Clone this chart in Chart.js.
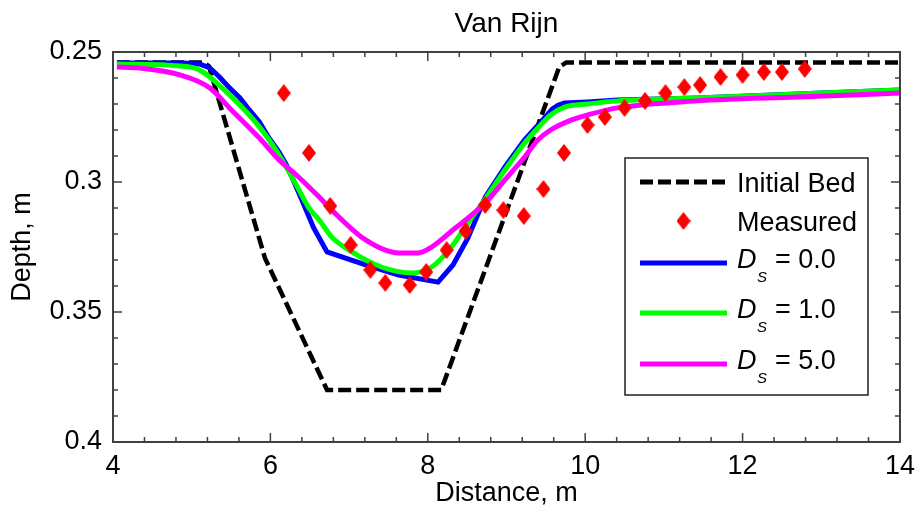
<!DOCTYPE html>
<html>
<head>
<meta charset="utf-8">
<script src="https://cdn.jsdelivr.net/npm/chart.js@4.4.0/dist/chart.umd.min.js"></script>
<style>
  html, body { margin: 0; padding: 0; background: #fff; }
  #wrap { width: 923px; height: 519px; }
</style>
</head>
<body>
<div id="wrap"><canvas id="myChart" width="923" height="519"></canvas></div>
<script>
// DATA (distance in m, depth in m)
const bedX = [4.05, 5.15, 5.22, 5.93, 6.72, 8.17, 9.67, 9.76, 14];
const bedDepth = [0.254, 0.254, 0.2555, 0.3292, 0.38, 0.38, 0.2558, 0.254, 0.254];

const measX = [6.17, 6.49, 6.76, 7.02, 7.27, 7.46, 7.77, 7.98, 8.24, 8.48, 8.73, 8.96, 9.22, 9.47,
  9.73, 10.03, 10.25, 10.5, 10.76, 11.02, 11.26, 11.46, 11.72, 12.0, 12.27, 12.5, 12.79];
const measDepth = [0.2658, 0.2888, 0.3092, 0.3242, 0.3338, 0.3388, 0.3396, 0.3346, 0.3262, 0.3188,
  0.3088, 0.3108, 0.3131, 0.3027, 0.2888, 0.2781, 0.275, 0.2715, 0.2688, 0.2658, 0.2635, 0.2627,
  0.2596, 0.2588, 0.2577, 0.2577, 0.2565];

const ds0X = [4.05, 4.9, 5.1, 5.23, 5.35, 5.48, 5.61, 5.73, 5.86, 5.98, 6.11, 6.2, 6.28, 6.4, 6.55,
  6.72, 7.21, 7.63, 8.13, 8.32, 8.51, 8.73, 8.98, 9.23, 9.4, 9.5, 9.58, 9.66, 9.74, 10.03, 10.41,
  11.42, 12.69, 14];
const ds0Depth = [0.2542, 0.2542, 0.2546, 0.2561, 0.2595, 0.2638, 0.2676, 0.2722, 0.2769, 0.283,
  0.2885, 0.2932, 0.2985, 0.3069, 0.3177, 0.3269, 0.3319, 0.3358, 0.3385, 0.3319, 0.3215, 0.3058,
  0.2942, 0.2838, 0.2781, 0.2748, 0.272, 0.2704, 0.2696, 0.2692, 0.2685, 0.2677, 0.2662, 0.2646];

const ds1X = [4.05, 4.85, 5.1, 5.48, 5.86, 6.11, 6.33, 6.49, 6.62, 6.78, 7.0, 7.41, 7.79, 8.05, 8.3,
  8.51, 8.73, 8.98, 9.23, 9.4, 9.56, 9.74, 10.03, 10.41, 11.42, 12.69, 14];
const ds1Depth = [0.2546, 0.2554, 0.2569, 0.2665, 0.2788, 0.2896, 0.3012, 0.31, 0.3146, 0.3212,
  0.3262, 0.3327, 0.335, 0.3327, 0.325, 0.3158, 0.3065, 0.2954, 0.285, 0.2792, 0.2742, 0.2712,
  0.27, 0.2688, 0.2677, 0.2662, 0.2646];

const ds5X = [4.05, 4.34, 4.85, 5.23, 5.48, 5.86, 6.11, 6.33, 6.62, 6.78, 7.21, 7.63, 7.88, 8.05,
  8.35, 8.48, 8.73, 8.98, 9.23, 9.4, 9.56, 9.82, 10.03, 10.41, 11.42, 12.69, 14];
const ds5Depth = [0.2558, 0.2562, 0.2588, 0.2638, 0.2715, 0.2831, 0.2915, 0.2973, 0.3058, 0.3108,
  0.3223, 0.3273, 0.3273, 0.325, 0.3177, 0.3146, 0.3081, 0.2992, 0.2904, 0.2838, 0.28, 0.2762,
  0.2742, 0.2715, 0.2688, 0.2673, 0.2658];

const dsValues = ["0.0", "1.0", "5.0"];
const dsColors = ["#0000ff", "#00ff00", "#ff00ff"];
const titleText = "Van Rijn";

const FONT = "'Liberation Sans', Arial, sans-serif";
Chart.defaults.font.family = FONT;
Chart.defaults.color = "#000";

function toPoints(xs, ys) {
  return xs.map((x, i) => ({ x: x, y: ys[i] }));
}
function isMajor(v, step) {
  return Math.abs(v / step - Math.round(v / step)) < 1e-6;
}
function diamond(w, h, color) {
  const c = document.createElement("canvas");
  c.width = w;
  c.height = h;
  const g = c.getContext("2d");
  g.fillStyle = color;
  g.beginPath();
  g.moveTo(w / 2, 0);
  g.lineTo(w, h / 2);
  g.lineTo(w / 2, h);
  g.lineTo(0, h / 2);
  g.closePath();
  g.fill();
  return c;
}
const redDiamond = diamond(14, 18, "#ff0000");

// frame, inward ticks, title and legend
const decorations = {
  id: "decorations",
  afterDatasetsDraw(chart) {
    const { ctx, chartArea: a, scales } = chart;
    ctx.save();
    ctx.strokeStyle = "#404040";
    ctx.lineWidth = 1.5;
    ctx.beginPath();
    scales.x.ticks.forEach((t) => {
      const px = scales.x.getPixelForValue(t.value);
      const len = isMajor(t.value, 2) ? 9 : 5;
      ctx.moveTo(px, a.bottom);
      ctx.lineTo(px, a.bottom - len);
      ctx.moveTo(px, a.top);
      ctx.lineTo(px, a.top + len);
    });
    scales.y.ticks.forEach((t) => {
      const py = scales.y.getPixelForValue(t.value);
      const len = isMajor(t.value, 0.05) ? 9 : 5;
      ctx.moveTo(a.left, py);
      ctx.lineTo(a.left + len, py);
      ctx.moveTo(a.right, py);
      ctx.lineTo(a.right - len, py);
    });
    ctx.stroke();
    ctx.lineWidth = 2;
    ctx.strokeRect(a.left, a.top, a.width, a.height);
    ctx.restore();
  },
  afterDraw(chart) {
    const { ctx, chartArea: a } = chart;
    ctx.save();
    // title
    ctx.fillStyle = "#000";
    ctx.font = "28px " + FONT;
    ctx.textAlign = "center";
    ctx.textBaseline = "alphabetic";
    ctx.fillText(titleText, (a.left + a.right) / 2, 32);

    // legend box
    const bx = 625, by = 158, bw = 243, bh = 237;
    ctx.fillStyle = "#fff";
    ctx.fillRect(bx, by, bw, bh);
    ctx.strokeStyle = "#202020";
    ctx.lineWidth = 1.5;
    ctx.strokeRect(bx, by, bw, bh);

    const x0 = 640, x1 = 727, tx = 737;
    ctx.textAlign = "left";
    ctx.fillStyle = "#000";

    // Initial Bed
    let ly = 182;
    ctx.strokeStyle = "#000";
    ctx.lineWidth = 5;
    ctx.setLineDash([13, 5]);
    ctx.beginPath();
    ctx.moveTo(x0, ly);
    ctx.lineTo(x1, ly);
    ctx.stroke();
    ctx.setLineDash([]);
    ctx.font = "27px " + FONT;
    ctx.fillText("Initial Bed", tx, ly + 10);

    // Measured
    ly = 221;
    ctx.drawImage(redDiamond, (x0 + x1) / 2 - 7, ly - 9);
    ctx.fillText("Measured", tx, ly + 10);

    // D_S rows
    const rowsY = [263, 313, 364];
    dsValues.forEach((v, i) => {
      const y = rowsY[i];
      ctx.strokeStyle = dsColors[i];
      ctx.lineWidth = 5;
      ctx.beginPath();
      ctx.moveTo(x0, y);
      ctx.lineTo(x1, y);
      ctx.stroke();
      ctx.fillStyle = "#000";
      ctx.font = "italic 27px " + FONT;
      ctx.fillText("D", tx, y + 5);
      ctx.font = "italic 15px " + FONT;
      ctx.fillText("S", tx + 20, y + 19);
      ctx.font = "27px " + FONT;
      ctx.fillText("= " + v, tx + 38, y + 5);
    });
    ctx.restore();
  },
};

const lineBase = {
  showLine: true,
  pointRadius: 0,
  borderWidth: 5,
  fill: false,
  cubicInterpolationMode: "monotone",
};

const ctx = document.getElementById("myChart").getContext("2d");
const myChart = new Chart(ctx, {
  type: "scatter",
  data: {
    datasets: [
      {
        label: "Measured",
        data: toPoints(measX, measDepth),
        pointStyle: redDiamond,
        pointRadius: 9,
        backgroundColor: "#ff0000",
        borderColor: "#ff0000",
        order: 0,
      },
      Object.assign({}, lineBase, {
        label: "Ds = 5.0",
        data: toPoints(ds5X, ds5Depth),
        borderColor: dsColors[2],
        order: 1,
      }),
      Object.assign({}, lineBase, {
        label: "Ds = 1.0",
        data: toPoints(ds1X, ds1Depth),
        borderColor: dsColors[1],
        order: 2,
      }),
      Object.assign({}, lineBase, {
        label: "Ds = 0.0",
        data: toPoints(ds0X, ds0Depth),
        borderColor: dsColors[0],
        cubicInterpolationMode: "default",
        tension: 0,
        order: 3,
      }),
      {
        label: "Initial Bed",
        data: toPoints(bedX, bedDepth),
        showLine: true,
        pointRadius: 0,
        fill: false,
        borderColor: "#000",
        borderWidth: 4.5,
        borderDash: [13, 5],
        order: 4,
      },
    ],
  },
  options: {
    responsive: false,
    animation: false,
    layout: { padding: { top: 52, right: 19, left: 0, bottom: 0 } },
    plugins: { legend: { display: false }, tooltip: { enabled: false } },
    scales: {
      x: {
        type: "linear",
        min: 4,
        max: 14,
        ticks: {
          stepSize: 0.4,
          autoSkip: false,
          maxRotation: 0,
          padding: 8,
          font: { size: 27 },
          color: "#000",
          callback: (v) => (isMajor(v, 2) ? String(Math.round(v)) : ""),
        },
        grid: { display: false, drawTicks: false },
        border: { display: false },
        title: {
          display: true,
          text: "Distance, m",
          font: { size: 27 },
          color: "#000",
          padding: { top: 0, bottom: 9 },
        },
        afterFit: (s) => { s.height = 77; },
      },
      y: {
        type: "linear",
        reverse: true,
        min: 0.25,
        max: 0.4,
        ticks: {
          stepSize: 0.01,
          autoSkip: false,
          padding: 11,
          font: { size: 27 },
          color: "#000",
          callback: (v) => (isMajor(v, 0.05) ? String(Math.round(v * 100) / 100) : ""),
        },
        grid: { display: false, drawTicks: false },
        border: { display: false },
        title: {
          display: true,
          text: "Depth, m",
          font: { size: 27 },
          color: "#000",
          padding: { top: 6, bottom: 0 },
        },
        afterFit: (s) => { s.width = 113; },
      },
    },
  },
  plugins: [decorations],
});
</script>
</body>
</html>
